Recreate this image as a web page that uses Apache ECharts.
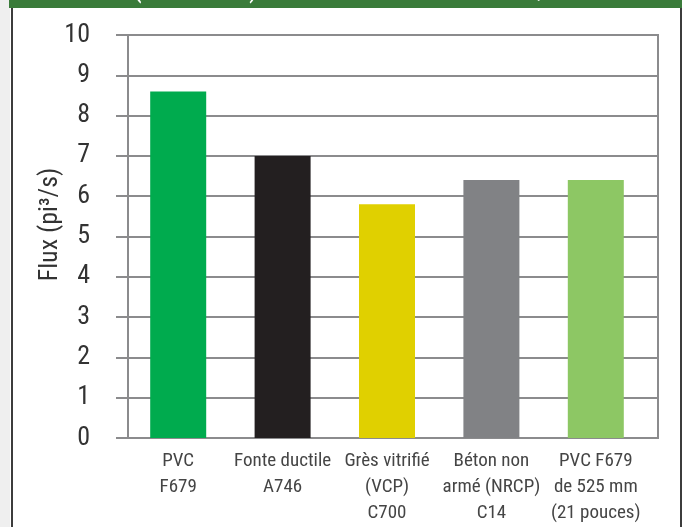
<!DOCTYPE html>
<html>
<head>
<meta charset="utf-8">
<script src="https://cdn.jsdelivr.net/npm/echarts@6/dist/echarts.min.js"></script>
<style>
  html, body { margin: 0; padding: 0; background: #ffffff; }
  #chart { width: 682px; height: 527px; }
</style>
</head>
<body>
<div id="chart"></div>
<script>
// Pipe materials and their flow capacity (ft³/s)
const categories = [
  'PVC\nF679',
  'Fonte ductile\nA746',
  'Grès vitrifié\n(VCP)\nC700',
  'Béton non\narmé (NRCP)\nC14',
  'PVC F679\nde 525 mm\n(21 pouces)'
];
const flowValues = [8.6, 7.0, 5.8, 6.4, 6.4];
const barColors = ['#00ab4e', '#231f20', '#e0d000', '#818285', '#8dc764'];
const yTicks = [0, 1, 2, 3, 4, 5, 6, 7, 8, 9, 10];
const yAxisTitle = 'Flux (pi³/s)';

const FONT = "'Liberation Sans Narrow', 'Roboto Condensed', 'DejaVu Sans Condensed', 'Liberation Sans', sans-serif";
const GRID_GRAY = '#8b8b8d';

const chart = echarts.init(document.getElementById('chart'), null, { renderer: 'canvas' });

chart.setOption({
  backgroundColor: '#ffffff',
  animation: false,
  textStyle: { fontFamily: FONT },
  graphic: [
    // page margin on the left
    { type: 'rect', left: 0, top: 0, shape: { width: 10, height: 527 }, style: { fill: '#efefef' }, silent: true },
    // panel frame
    { type: 'rect', left: 11, top: 0, shape: { width: 2, height: 527 }, style: { fill: '#3c3c3c' }, silent: true },
    { type: 'rect', left: 680, top: 0, shape: { width: 2, height: 527 }, style: { fill: '#3c3c3c' }, silent: true },
    // header band
    { type: 'rect', left: 9, top: 0, shape: { width: 673, height: 8 }, style: { fill: '#3a7b3a' }, silent: true, z: 10 },
    { type: 'text', left: 133, top: -24, style: { text: '(', fill: '#ffffff', font: '28px ' + FONT }, silent: true, z: 11 },
    { type: 'text', left: 249, top: -24, style: { text: ')', fill: '#ffffff', font: '28px ' + FONT }, silent: true, z: 11 },
    { type: 'text', left: 537, top: -24, style: { text: ',', fill: '#ffffff', font: '28px ' + FONT }, silent: true, z: 11 }
  ],
  grid: [
    // framed plot box carrying the value scale
    { left: 128, top: 35, width: 530, height: 403, show: true, borderColor: GRID_GRAY, borderWidth: 2,
      backgroundColor: 'transparent', outerBoundsMode: 'none', containLabel: false },
    // band layout for the bars
    { left: 126, top: 35, width: 522, height: 403, outerBoundsMode: 'none', containLabel: false }
  ],
  xAxis: [
    { type: 'value', gridIndex: 0, min: 0, max: 1, show: false },
    {
      type: 'category', gridIndex: 1, data: categories,
      axisLine: { show: false }, axisTick: { show: false },
      axisLabel: { fontSize: 19, lineHeight: 26, color: '#454545', margin: 10, fontFamily: FONT, interval: 0 }
    }
  ],
  yAxis: [
    {
      type: 'value', gridIndex: 0, min: yTicks[0], max: yTicks[yTicks.length - 1], interval: 1,
      name: yAxisTitle, nameLocation: 'middle', nameRotate: 90, nameGap: 65, nameMoveOverlap: false,
      nameTextStyle: { fontSize: 26, color: '#333333', fontFamily: FONT, padding: [0, 0, 0, 24] },
      axisLine: { show: true, lineStyle: { color: GRID_GRAY, width: 2 } },
      axisTick: { show: true, length: 12, lineStyle: { color: GRID_GRAY, width: 2 } },
      axisLabel: { fontSize: 26, color: '#333333', margin: 38, fontFamily: FONT },
      splitLine: { show: true, lineStyle: { color: GRID_GRAY, width: 2 } }
    },
    { type: 'value', gridIndex: 1, min: 0, max: 10, show: false }
  ],
  series: [
    {
      type: 'bar', xAxisIndex: 1, yAxisIndex: 1, barWidth: 56,
      data: flowValues.map((v, i) => ({ value: v, itemStyle: { color: barColors[i] } })),
      z: 5
    }
  ]
});
</script>
</body>
</html>
